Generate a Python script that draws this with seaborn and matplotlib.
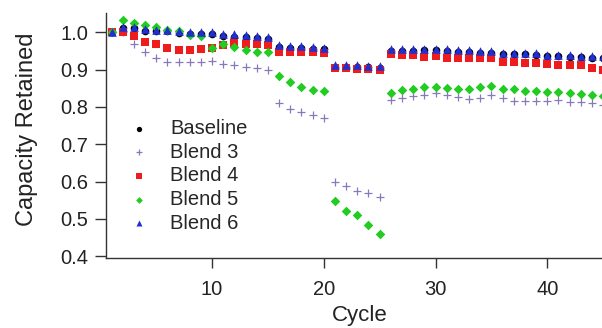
import matplotlib
matplotlib.use("Agg")
import matplotlib.pyplot as plt
import numpy as np
import pandas as pd
import seaborn as sns

# Zyklen 1..45
cycle = list(range(1, 46))

baseline = [1.000, 1.010, 1.010, 1.004, 1.002, 1.002, 0.998, 0.996, 0.996, 0.995,
            0.990, 0.988, 0.986, 0.984, 0.982, 0.960, 0.958, 0.958, 0.956, 0.954,
            0.908, 0.908, 0.907, 0.906, 0.905,
            0.950, 0.950, 0.950, 0.951, 0.951, 0.949, 0.948, 0.947, 0.945, 0.945,
            0.941, 0.941, 0.941, 0.939, 0.936, 0.936, 0.934, 0.933, 0.932, 0.932]
blend3 = [1.000, 1.000, 0.968, 0.946, 0.931, 0.920, 0.920, 0.920, 0.920, 0.922,
          0.916, 0.912, 0.907, 0.904, 0.900, 0.810, 0.795, 0.786, 0.777, 0.770,
          0.600, 0.588, 0.576, 0.570, 0.558,
          0.818, 0.825, 0.828, 0.831, 0.836, 0.833, 0.827, 0.822, 0.823, 0.833,
          0.823, 0.815, 0.815, 0.815, 0.815, 0.818, 0.813, 0.813, 0.810, 0.806]
blend4 = [1.000, 1.000, 0.989, 0.974, 0.967, 0.958, 0.953, 0.953, 0.954, 0.958,
          0.965, 0.970, 0.968, 0.968, 0.965, 0.947, 0.947, 0.947, 0.946, 0.945,
          0.905, 0.904, 0.902, 0.901, 0.900,
          0.942, 0.940, 0.938, 0.934, 0.937, 0.932, 0.930, 0.930, 0.932, 0.932,
          0.920, 0.920, 0.918, 0.918, 0.915, 0.913, 0.913, 0.911, 0.904, 0.900]
blend5 = [1.000, 1.032, 1.025, 1.019, 1.014, 1.007, 1.003, 0.992, 0.989, 0.958,
          0.968, 0.959, 0.952, 0.947, 0.946, 0.882, 0.867, 0.853, 0.846, 0.843,
          0.548, 0.520, 0.511, 0.483, 0.460,
          0.838, 0.845, 0.848, 0.852, 0.852, 0.851, 0.849, 0.849, 0.853, 0.855,
          0.849, 0.849, 0.843, 0.842, 0.840, 0.840, 0.836, 0.834, 0.831, 0.829]
blend6 = [1.000, 1.014, 1.014, 1.008, 1.005, 1.005, 1.002, 1.000, 1.000, 1.000,
          0.996, 0.994, 0.992, 0.989, 0.987, 0.965, 0.963, 0.963, 0.960, 0.958,
          0.913, 0.912, 0.911, 0.910, 0.910,
          0.956, 0.956, 0.956, 0.956, 0.956, 0.954, 0.953, 0.952, 0.950, 0.950,
          0.945, 0.945, 0.945, 0.943, 0.940, 0.940, 0.938, 0.937, 0.936, 0.936]

series = ["Baseline", "Blend 3", "Blend 4", "Blend 5", "Blend 6"]
werte = [baseline, blend3, blend4, blend5, blend6]
farben = ["#000000", "#8a78b8", "#ee1c1c", "#22cc22", "#1f2fd0"]
marker = ["o", "+", "s", "D", "^"]
groesse = [30, 34, 40, 24, 38]

df = pd.DataFrame({"Cycle": cycle * len(series),
                   "Capacity Retained": np.concatenate(werte),
                   "Serie": np.repeat(series, len(cycle))})

sns.set_style("white")
plt.rcParams["font.family"] = ["Liberation Sans", "DejaVu Sans"]

fig = plt.figure(figsize=(6.02, 3.28), dpi=100)
ax = fig.add_axes([0.176, 0.213, 0.824, 0.747])

for name, f, m, s in zip(series, farben, marker, groesse):
    teil = df[df["Serie"] == name]
    if m == "+":
        sns.scatterplot(data=teil, x="Cycle", y="Capacity Retained", ax=ax,
                        color=f, marker=m, s=s, linewidth=0.9, label=name)
    else:
        sns.scatterplot(data=teil, x="Cycle", y="Capacity Retained", ax=ax,
                        color=f, marker=m, s=s, linewidth=0, label=name)

ax.set_xlim(0.5, 44.9)
ax.set_ylim(0.395, 1.051)
ax.set_xticks([10, 20, 30, 40])
ax.set_yticks([0.4, 0.5, 0.6, 0.7, 0.8, 0.9, 1.0])
ax.yaxis.set_major_formatter(matplotlib.ticker.FormatStrFormatter("%.1f"))

for sp in ["top", "right"]:
    ax.spines[sp].set_visible(False)
for sp in ["left", "bottom"]:
    ax.spines[sp].set_color("#333333")
    ax.spines[sp].set_linewidth(1.0)

ax.tick_params(axis="both", direction="out", width=1, color="#333333",
               labelsize=14.5, labelcolor="#222222", left=True, bottom=True)
ax.tick_params(axis="y", length=8, pad=5)
ax.tick_params(axis="x", length=7.5, pad=8)

ax.set_xlabel("Cycle", fontsize=16, color="#222222")
ax.set_ylabel("Capacity Retained", fontsize=17, color="#222222")
ax.xaxis.set_label_coords(0.512, -0.192)
ax.yaxis.set_label_coords(-0.137, 0.527)

ax.legend(loc="upper left", bbox_to_anchor=(0.214, 0.637),
          bbox_transform=fig.transFigure, frameon=False, fontsize=14.5,
          handlelength=1.0, handletextpad=1.05, labelspacing=0.23,
          borderaxespad=0, borderpad=0, markerscale=0.7)

fig.savefig("out.png", dpi=100)
